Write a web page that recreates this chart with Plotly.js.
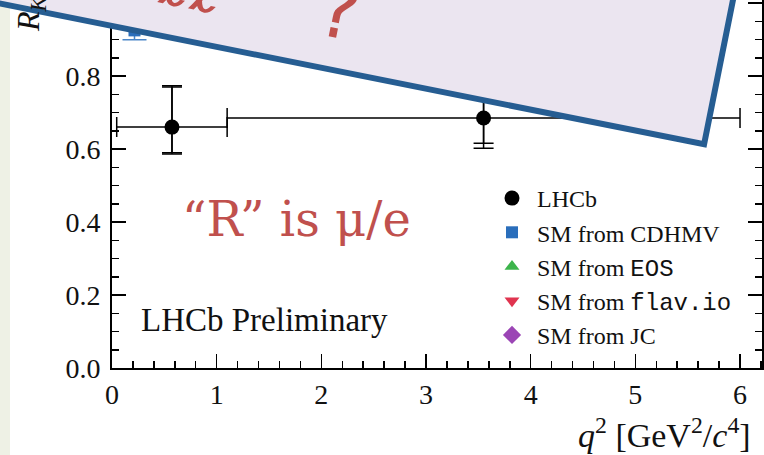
<!DOCTYPE html>
<html>
<head>
<meta charset="utf-8">
<script src="https://cdn.plot.ly/plotly-3.0.1.min.js"></script>
<style>html,body{margin:0;padding:0;background:#fff;}#chart{width:764px;height:455px;}</style>
</head>
<body>
<div id="chart"></div>
<script>
// ---- data ----
const lhcbQ2 = [0.573, 3.55];
const lhcbBinLow = [0.045, 1.1];
const lhcbBinHigh = [1.1, 6.0];
const lhcbR = [0.660, 0.685];
const lhcbStatUp = [0.110, 0.113];
const lhcbStatDown = [0.070, 0.069];
const lhcbTotUp = [0.113, 0.122];
const lhcbTotDown = [0.074, 0.083];

const cdhmvQ2 = [0.215, 3.30];
const cdhmvR = [0.925, 0.996];
const cdhmvErr = [0.026, 0.010];

const eosQ2 = [0.55, 3.45];
const eosR = [0.930, 0.998];
const eosErr = [0.020, 0.008];

const flavQ2 = [0.70, 3.60];
const flavR = [0.930, 0.996];
const flavErr = [0.018, 0.008];

const jcQ2 = [0.85, 3.75];
const jcR = [0.925, 0.998];
const jcErr = [0.020, 0.010];

const seriesNames = ['LHCb', 'SM from CDHMV', 'SM from <span style="font-family:Liberation Mono">EOS</span>',
  'SM from <span style="font-family:Liberation Mono">flav.io</span>', 'SM from JC'];

// ---- geometry helpers (pixel -> paper) ----
const W = 764, H = 455;
const M = {l: 112, r: 2, t: 0, b: 87};
const PW = W - M.l - M.r, PH = H - M.t - M.b;
const px = x => (x - M.l) / PW;
const py = y => (M.t + PH - y) / PH;

const errPlus = lhcbBinHigh.map((h, i) => h - lhcbQ2[i]);
const errMinus = lhcbQ2.map((q, i) => q - lhcbBinLow[i]);

const serif = 'Liberation Serif, Times New Roman, serif';

const traces = [
  {type: 'scatter', mode: 'markers', x: lhcbQ2, y: lhcbR, showlegend: false, hoverinfo: 'skip',
   marker: {size: 1, color: 'rgba(0,0,0,0)'},
   error_y: {type: 'data', symmetric: false, array: lhcbStatUp, arrayminus: lhcbStatDown, color: 'black', thickness: 1.5, width: 10}},
  {type: 'scatter', mode: 'markers', x: lhcbQ2, y: lhcbR, name: seriesNames[0],
   marker: {symbol: 'circle', size: 15, color: 'black'},
   error_x: {type: 'data', symmetric: false, array: errPlus, arrayminus: errMinus, color: 'black', thickness: 1.5, width: 10},
   error_y: {type: 'data', symmetric: false, array: lhcbTotUp, arrayminus: lhcbTotDown, color: 'black', thickness: 1.5, width: 10}},
  {type: 'scatter', mode: 'markers', x: cdhmvQ2, y: cdhmvR, name: seriesNames[1],
   marker: {symbol: 'square', size: 12, color: '#2a6ebb'},
   error_y: {type: 'data', array: cdhmvErr, color: '#4a86c8', thickness: 1.5, width: 12}},
  {type: 'scatter', mode: 'markers', x: eosQ2, y: eosR, name: seriesNames[2],
   marker: {symbol: 'triangle-up', size: 13, color: '#3cb44b'},
   error_y: {type: 'data', array: eosErr, color: '#3cb44b', thickness: 1.5, width: 8}},
  {type: 'scatter', mode: 'markers', x: flavQ2, y: flavR, name: seriesNames[3],
   marker: {symbol: 'triangle-down', size: 13, color: '#e0344f'},
   error_y: {type: 'data', array: flavErr, color: '#e0344f', thickness: 1.5, width: 8}},
  {type: 'scatter', mode: 'markers', x: jcQ2, y: jcR, name: seriesNames[4],
   marker: {symbol: 'diamond', size: 14, color: '#9b45b5'},
   error_y: {type: 'data', array: jcErr, color: '#9b45b5', thickness: 1.5, width: 8}}
];

// overlay polygon corners (pixels)
const ov = [[-200, -36.5], [704.1, 144.3], [773, -200], [-200, -200]];
const ovPath = 'M ' + ov.map(p => px(p[0]).toFixed(5) + ',' + py(p[1]).toFixed(5)).join(' L ') + ' Z';

const NB = '\u00A0';

const layout = {
  width: W, height: H,
  margin: M,
  paper_bgcolor: 'white', plot_bgcolor: 'white',
  showlegend: true,
  legend: {x: px(487), xanchor: 'left', y: py(176), yanchor: 'top', bgcolor: 'rgba(0,0,0,0)',
           font: {family: serif, size: 24, color: '#111'}, traceorder: 'normal', itemwidth: 40},
  xaxis: {range: [0, 6.21], showline: true, linecolor: 'black', linewidth: 2, mirror: false,
          ticks: 'inside', ticklen: 14, tickwidth: 1.5, tickcolor: 'black', dtick: 1, tick0: 0,
          minor: {dtick: 0.2, ticks: 'inside', ticklen: 7, tickwidth: 1.5, tickcolor: 'black'},
          showgrid: false, zeroline: false, ticklabelstandoff: 0,
          tickfont: {family: serif, size: 28, color: '#111'}},
  yaxis: {range: [0, 368 / 365], showline: true, linecolor: 'black', linewidth: 2, mirror: 'ticks',
          ticks: 'inside', ticklen: 14, tickwidth: 1.5, tickcolor: 'black', dtick: 0.2, tick0: 0, tickformat: '.1f',
          minor: {dtick: 0.05, ticks: 'inside', ticklen: 7, tickwidth: 1.5, tickcolor: 'black'},
          showgrid: false, zeroline: false, ticklabelstandoff: 4,
          tickfont: {family: serif, size: 28, color: '#111'}},
  shapes: [
    {type: 'rect', xref: 'paper', yref: 'paper', x0: px(0), x1: px(10), y0: py(H), y1: py(0),
     fillcolor: '#eef1e5', line: {width: 0}, layer: 'below'},
    {type: 'path', xref: 'paper', yref: 'paper', path: ovPath, fillcolor: '#ebe5f0',
     line: {color: '#265d92', width: 6}, layer: 'above'}
  ],
  annotations: [
    {xref: 'paper', yref: 'paper', x: px(31), y: py(34), xanchor: 'center', yanchor: 'bottom', textangle: -90,
     text: '<i>R</i><sub><i>K</i>*0</sub>', showarrow: false, font: {family: serif, size: 32, color: '#111'}},
    {xref: 'paper', yref: 'paper', x: px(753), y: py(433), xanchor: 'right', yanchor: 'middle',
     text: '<i>q</i><sup>2</sup>' + NB + '[GeV<sup>2</sup>/<i>c</i><sup>4</sup>]', showarrow: false,
     font: {family: serif, size: 34, color: '#111'}},
    {xref: 'paper', yref: 'paper', x: px(139), y: py(320), xanchor: 'left', yanchor: 'middle',
     text: 'LHCb Preliminary', showarrow: false, font: {family: serif, size: 33, color: '#111'}},
    {xref: 'paper', yref: 'paper', x: px(296), y: py(219), xanchor: 'center', yanchor: 'middle',
     text: '“R” is μ/e', showarrow: false, font: {family: 'DejaVu Serif, serif', size: 48, color: '#c0504d'}},
    {xref: 'paper', yref: 'paper', x: px(371), y: py(62), xanchor: 'right', yanchor: 'bottom', textangle: 11.3,
     text: 'LFU violation in b→sℓℓ' + NB + NB + NB + NB + '?', showarrow: false,
     font: {family: 'DejaVu Sans, sans-serif', size: 76, color: '#c0504d'}}
  ]
};

Plotly.newPlot('chart', traces, layout, {displayModeBar: false, staticPlot: true});
</script>
</body>
</html>
